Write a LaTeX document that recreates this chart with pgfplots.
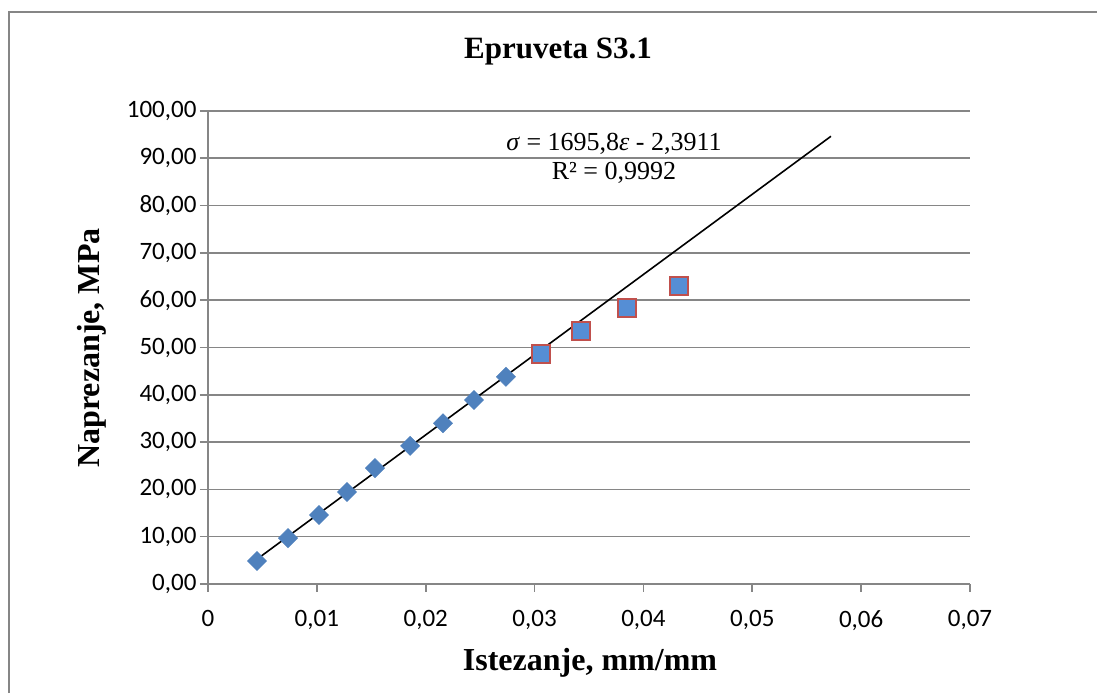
\documentclass[border=0pt]{standalone}
\usepackage{pgfplots}
\pgfplotsset{compat=1.18}
\usepackage{fontspec}
\setmainfont{Liberation Serif}
\newfontfamily\carlito{Carlito}
\definecolor{gridgray}{HTML}{868686}
\definecolor{dblue}{HTML}{4F81BD}
\definecolor{sblue}{HTML}{558ED5}
\definecolor{sred}{HTML}{C0504D}
\begin{document}
\begin{tikzpicture}[x=1pt,y=1pt]
\useasboundingbox (0,0) rectangle (1097,693);
\fill[white] (0,0) rectangle (1097,693);
\draw[gridgray, line width=1.5pt] (9,0) -- (9,681) -- (1100,681);
\begin{axis}[
  at={(208pt,109pt)}, anchor=origin,
  scale only axis, width=762pt, height=473pt,
  xmin=0, xmax=0.07, ymin=0, ymax=100,
  xtick={0,0.01,0.02,0.03,0.04,0.05,0.06,0.07},
  ytick={0,10,...,100},
  scaled x ticks=false, scaled y ticks=false,
  axis x line*=bottom, axis y line*=left,
  axis line style={gridgray, line width=1.6pt, -},
  ymajorgrids, grid style={gridgray, line width=1.6pt},
  tick style={gridgray, line width=1.6pt},
  tick align=outside, major tick length=8pt,
  tick label style={font=\carlito\fontsize{25}{26}\selectfont, text=black},
  /pgf/number format/assume math mode=true,
  yticklabel={\pgfmathprintnumber[fixed,fixed zerofill,precision=2,use comma]{\tick}},
  xticklabel={\pgfmathprintnumber[fixed,precision=2,use comma]{\tick}},
  xticklabel style={yshift=-15pt},
  clip=false,
]
\addplot[only marks, mark=square*, mark size=6.8pt, mark options={fill=dblue, draw=dblue, rotate=45}]
coordinates {
(0.0045,4.86) (0.00735,9.7) (0.0102,14.6) (0.01277,19.45) (0.01534,24.5)
(0.01856,29.2) (0.02159,34.0) (0.02444,38.9) (0.02737,43.8)
};
\addplot[only marks, mark=square*, mark size=9pt, mark options={fill=sblue, draw=sred, line width=1.5pt}]
coordinates {
(0.0306,48.6) (0.03427,53.5) (0.03849,58.4) (0.04327,63.0)
};
\addplot[black, line width=1.6pt, no marks] coordinates {(0.0045,5.24) (0.05723,94.66)};
\end{axis}
\node[font=\bfseries\fontsize{31}{34}\selectfont] at (558,641) {Epruveta S3.1};
\node[font=\bfseries\fontsize{32}{34}\selectfont] at (590,30) {Istezanje, mm/mm};
\node[font=\bfseries\fontsize{32}{34}\selectfont, rotate=90] at (92,345) {Naprezanje, MPa};
\node[font=\fontsize{26}{28}\selectfont] at (614,549) {\textit{σ} = 1695,8\textit{ε} - 2,3911};
\node[font=\fontsize{26}{28}\selectfont] at (614,520) {R² = 0,9992};
\end{tikzpicture}
\end{document}
